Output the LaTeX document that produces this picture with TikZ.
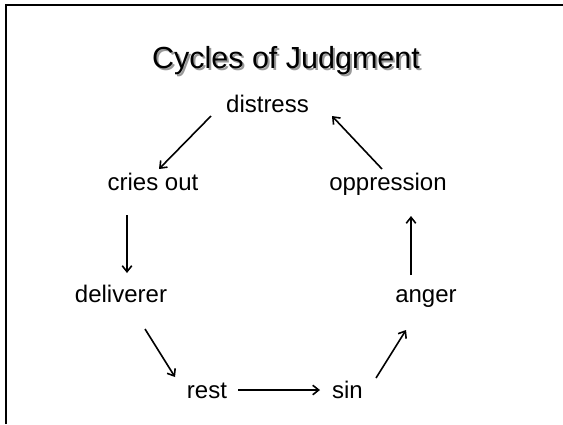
\documentclass[tikz,border=0pt]{standalone}
\usepackage{fontspec}
\setmainfont{Liberation Sans}
\usetikzlibrary{arrows.meta}
\begin{document}
\begin{tikzpicture}[x=1pt,y=-1pt,
  lbl/.style={anchor=base,inner sep=0pt,font=\fontsize{24}{28}\selectfont},
  ttl/.style={anchor=base,inner sep=0pt,font=\fontsize{30.5}{36}\selectfont},
  arr/.style={line width=1.6pt,-{Straight Barb[length=6pt,width=9.5pt,line width=1.6pt]}}]
\useasboundingbox (0,0) rectangle (563,424);
\fill[white] (0,0) rectangle (563,424);
\draw[line width=2pt] (6,424) -- (6,5) -- (563,5);
% title with shadow
\node[ttl,text=black!40] (titleshadow) at (288,70) {Cycles of Judgment};
\node[ttl] (title) at (286,68) {Cycles of Judgment};
% nodes
\node[lbl] (distress) at (267.5,112) {distress};
\node[lbl] (cries) at (153,190) {cries out};
\node[lbl] (oppression) at (388,190) {oppression};
\node[lbl] (deliverer) at (121,302) {deliverer};
\node[lbl] (anger) at (426,302) {anger};
\node[lbl] (rest) at (207,398) {rest};
\node[lbl] (sin) at (347.5,398) {sin};
% connectors
\draw[arr] ([shift={(-56.5,4)}]distress.base) -- ([shift={(6,-21)}]cries.base);
\draw[arr] ([shift={(-26,25)}]cries.base) -- ([shift={(-26,-29)}]cries.base |- deliverer.base);
\draw[arr] ([shift={(24,27)}]deliverer.base) -- ([shift={(-32,-21)}]rest.base);
\draw[arr] ([shift={(31,-8)}]rest.base) -- ([shift={(-27.5,-8)}]sin.base);
\draw[arr] ([shift={(28.5,-20)}]sin.base) -- ([shift={(-20,28)}]anger.base);
\draw[arr] ([shift={(-15,-27)}]anger.base) -- ([shift={(-15,26)}]anger.base |- oppression.base);
\draw[arr] ([shift={(-6,-21)}]oppression.base) -- ([shift={(64.5,4)}]distress.base);
\end{tikzpicture}
\end{document}
